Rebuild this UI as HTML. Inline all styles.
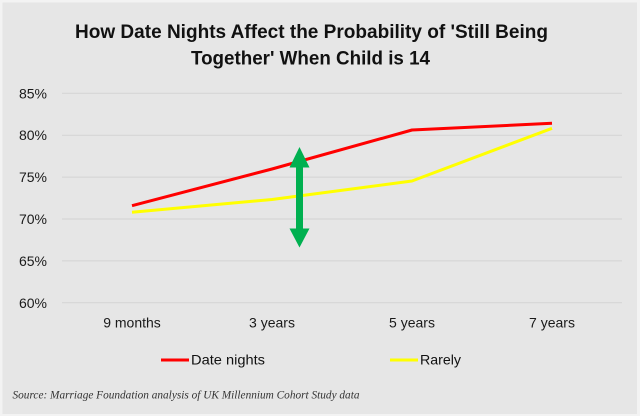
<!DOCTYPE html>
<html>
<head>
<meta charset="utf-8">
<style>
  html, body { margin: 0; padding: 0; background: #f3f3f3; }
  svg { display: block; }
</style>
</head>
<body>
<svg width="640" height="416" viewBox="0 0 640 416" xmlns="http://www.w3.org/2000/svg">
  <rect x="0" y="0" width="640" height="416" fill="#f3f3f3"/>
  <rect x="2.5" y="2.5" width="634.5" height="411.5" fill="#e6e6e6"/>

  <!-- Title -->
  <g font-family="'Liberation Sans', Arial, sans-serif" font-weight="bold" font-size="19" fill="#111">
    <text x="75" y="38" textLength="473" lengthAdjust="spacingAndGlyphs">How Date Nights Affect the Probability of 'Still Being</text>
    <text x="191" y="64.5" textLength="239" lengthAdjust="spacingAndGlyphs">Together' When Child is 14</text>
  </g>

  <!-- Gridlines -->
  <g stroke="#d3d3d3" stroke-width="1">
    <line x1="62" y1="93.3" x2="622" y2="93.3"/>
    <line x1="62" y1="135.2" x2="622" y2="135.2"/>
    <line x1="62" y1="177.1" x2="622" y2="177.1"/>
    <line x1="62" y1="219" x2="622" y2="219"/>
    <line x1="62" y1="260.9" x2="622" y2="260.9"/>
    <line x1="62" y1="302.8" x2="622" y2="302.8"/>
  </g>

  <!-- Y labels -->
  <g font-family="'Liberation Sans', Arial, sans-serif" font-size="14" fill="#1a1a1a" text-anchor="end">
    <text x="47" y="98.3">85%</text>
    <text x="47" y="140.2">80%</text>
    <text x="47" y="182.1">75%</text>
    <text x="47" y="224">70%</text>
    <text x="47" y="265.9">65%</text>
    <text x="47" y="307.8">60%</text>
  </g>

  <!-- X labels -->
  <g font-family="'Liberation Sans', Arial, sans-serif" font-size="14" fill="#1a1a1a" text-anchor="middle">
    <text x="132" y="327.5">9 months</text>
    <text x="272" y="327.5">3 years</text>
    <text x="412" y="327.5">5 years</text>
    <text x="552" y="327.5">7 years</text>
  </g>

  <!-- Series -->
  <polyline points="132,212.3 272,199.5 412,181 552,128.3" fill="none" stroke="#ffff00" stroke-width="3" stroke-linejoin="round"/>
  <polyline points="132,205.7 272,169 412,130 552,123.3" fill="none" stroke="#ff0000" stroke-width="3" stroke-linejoin="round"/>

  <!-- Green double arrow -->
  <g fill="#00b050">
    <polygon points="299.5,147 309.5,167.5 303,167.5 303,228.5 309.5,228.5 299.5,247.5 289.5,228.5 296,228.5 296,167.5 289.5,167.5"/>
  </g>

  <!-- Legend -->
  <line x1="161" y1="360" x2="189" y2="360" stroke="#ff0000" stroke-width="3"/>
  <line x1="390" y1="360" x2="418" y2="360" stroke="#ffff00" stroke-width="3"/>
  <g font-family="'Liberation Sans', Arial, sans-serif" font-size="14" fill="#111">
    <text x="191" y="364.5" textLength="74" lengthAdjust="spacingAndGlyphs">Date nights</text>
    <text x="420" y="364.5" textLength="41" lengthAdjust="spacingAndGlyphs">Rarely</text>
  </g>

  <!-- Source -->
  <text x="12.5" y="398.5" font-family="'Liberation Serif', 'Times New Roman', serif" font-style="italic" font-size="12" fill="#333" textLength="347" lengthAdjust="spacingAndGlyphs">Source: Marriage Foundation analysis of UK Millennium Cohort Study data</text>
</svg>
</body>
</html>
